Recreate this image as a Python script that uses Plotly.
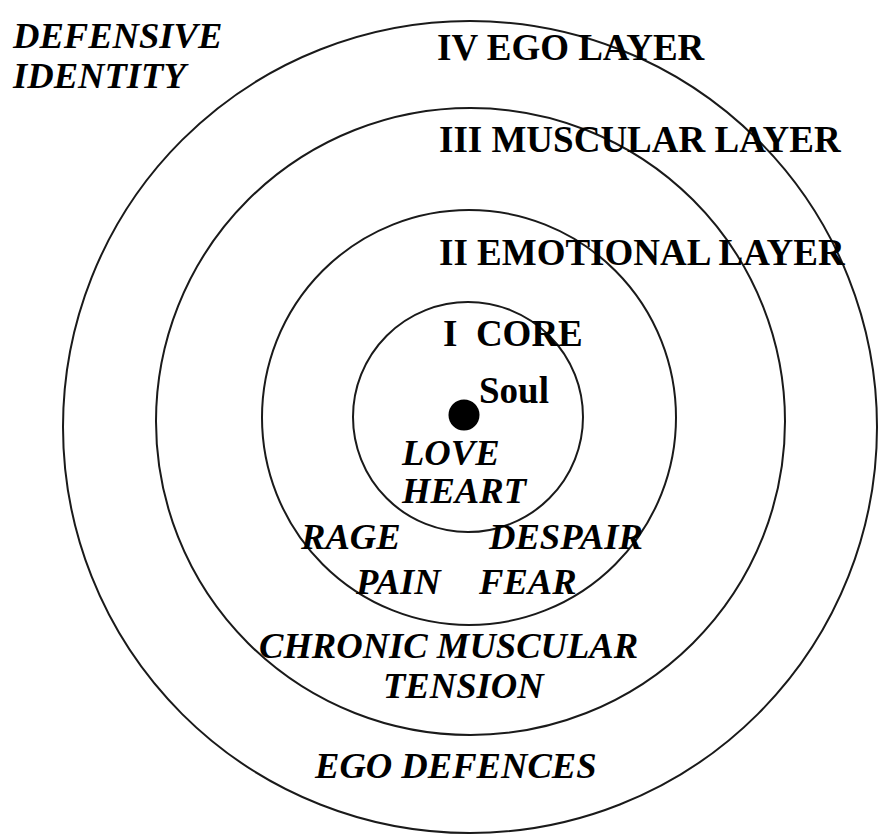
import plotly.graph_objects as go

# Concentric layer circles (pixel-space data coordinates)
circle_cx = [468, 469, 470.5, 470]
circle_cy = [417, 417.5, 421.5, 427]
circle_rx = [115, 207, 314.5, 407]
circle_ry = [115, 207.5, 313.5, 406]

# Soul dot
dot_x = [464]
dot_y = [415]

# Labels
label_text = ["DEFENSIVE", "IDENTITY", "IV EGO LAYER", "III MUSCULAR LAYER",
              "II EMOTIONAL LAYER", "I\u00a0 CORE", "Soul", "LOVE", "HEART",
              "RAGE", "DESPAIR", "PAIN", "FEAR", "CHRONIC MUSCULAR", "TENSION",
              "EGO DEFENCES"]
label_x = [10, 10, 435, 437, 437, 441, 477, 399, 399, 298, 486, 353, 476, 257, 381, 312]
label_y = [35, 75, 47, 139, 252, 333, 390, 452, 490, 536, 536, 581, 581, 645, 685, 765]
label_italic = [True, True, False, False, False, False, False, True, True,
                True, True, True, True, True, True, True]

fig = go.Figure()

for cx, cy, rx, ry in zip(circle_cx, circle_cy, circle_rx, circle_ry):
    fig.add_shape(type="circle", xref="x", yref="y",
                  x0=cx - rx, x1=cx + rx, y0=cy - ry, y1=cy + ry,
                  line=dict(color="#1a1a1a", width=2), layer="below")

fig.add_trace(go.Scatter(x=dot_x, y=dot_y, mode="markers",
                         marker=dict(size=31, color="black"),
                         hoverinfo="skip", showlegend=False))

for t, x, y, it in zip(label_text, label_x, label_y, label_italic):
    fig.add_annotation(x=x, y=y, xref="x", yref="y", text=t, showarrow=False,
                       xanchor="left", yanchor="middle",
                       font=dict(family="Liberation Serif", size=36.6 if it else 37,
                                 color="black", weight="bold",
                                 style="italic" if it else "normal"))

fig.update_xaxes(range=[0, 880], visible=False, fixedrange=True)
fig.update_yaxes(range=[835, 0], visible=False, fixedrange=True)
fig.update_layout(width=880, height=835, margin=dict(l=0, r=0, t=0, b=0),
                  plot_bgcolor="white", paper_bgcolor="white", showlegend=False)

fig.write_html("out.html", config={"displayModeBar": False},
               post_script="document.body.style.margin='0';document.body.style.overflow='hidden';")
